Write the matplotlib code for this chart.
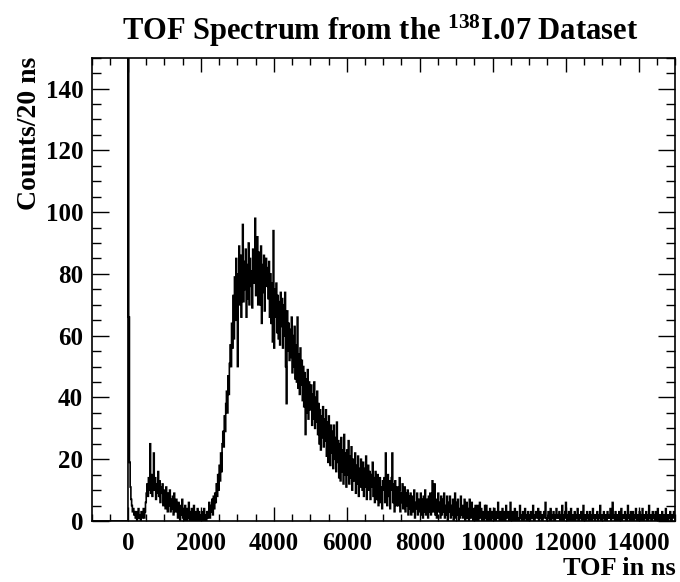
import numpy as np
import matplotlib
matplotlib.use("Agg")
import matplotlib.pyplot as plt
from matplotlib.ticker import MultipleLocator

plt.rcParams['font.family'] = ['Liberation Serif', 'DejaVu Serif']
plt.rcParams['font.weight'] = 'bold'
plt.rcParams['mathtext.fontset'] = 'custom'
plt.rcParams['mathtext.rm'] = 'Liberation Serif:bold'
plt.rcParams['mathtext.bf'] = 'Liberation Serif:bold'
plt.rcParams['mathtext.it'] = 'Liberation Serif:bold'

# histogram: 20 ns bins from -1000 ns to 15000 ns
bin_start = -1000
bin_width = 20

counts_m1000_0 = [0] * 50
counts_0_1000 = [412, 66, 19, 11, 7, 5, 3, 4, 2, 3,
                 1, 3, 0, 2, 4, 1, 2, 0, 3, 1, 2, 4, 1, 3,
                 6, 9, 12, 8, 14, 10, 25, 9, 15, 8, 12, 22, 10, 14, 7, 12,
                 9, 16, 8, 13, 6, 11, 9, 12, 5, 10]
counts_1000_2000 = [8, 4, 11, 6, 3, 9, 5, 10, 3, 7, 4, 8, 2, 9, 5, 3, 7,
                    5, 1, 6, 4, 0, 5, 2, 7, 1, 4, 0, 5, 2, 0, 4, 1, 6, 0,
                    3, 0, 4, 0, 2, 5, 0, 3, 0, 2, 4, 0, 3, 0, 2]
counts_2000_3000 = [1, 3, 0, 2, 4, 0, 2, 0, 3, 1,
                    3, 6, 1, 5, 3, 7, 2, 8, 4, 9,
                    6, 12, 8, 15, 10, 18, 13, 22, 16, 25,
                    29, 24, 34, 29, 38, 42, 35, 47, 41, 51,
                    57, 50, 64, 56, 73, 59, 79, 65, 85, 71]
counts_3000_4000 = [50, 80, 89, 70, 86, 66, 82, 96, 71, 84,
                    75, 88, 66, 83, 72, 90, 70, 85, 76, 81,
                    69, 88, 77, 86, 98, 73, 84, 92, 70, 87,
                    80, 70, 89, 64, 83, 74, 86, 68, 80, 85,
                    76, 82, 72, 84, 66, 80, 64, 77, 58, 94]
counts_4000_5000 = [56, 75, 66, 77, 61, 73, 59, 71, 57, 74,
                    63, 72, 56, 70, 60, 74, 50, 38, 68, 55,
                    64, 52, 62, 53, 66, 48, 60, 50, 63, 46,
                    57, 45, 66, 43, 54, 41, 56, 44, 52, 39,
                    50, 37, 48, 28, 46, 35, 49, 33, 45, 36]
counts_5000_6000 = [39, 44, 31, 41, 33, 45, 30, 40, 32, 42,
                    28, 38, 25, 36, 23, 34, 27, 37, 24, 33,
                    26, 36, 21, 32, 19, 34, 24, 18, 31, 22,
                    29, 17, 31, 20, 27, 16, 32, 19, 26, 14,
                    25, 13, 27, 16, 23, 12, 28, 15, 22, 11]
counts_6000_7000 = [23, 15, 26, 12, 21, 14, 24, 10, 20, 13,
                    19, 22, 9, 18, 12, 21, 8, 17, 11, 20,
                    16, 10, 19, 8, 17, 11, 21, 7, 15, 18,
                    10, 16, 7, 15, 11, 19, 8, 14, 6, 16,
                    13, 7, 15, 5, 12, 14, 6, 11, 4, 13]
counts_7000_8000 = [10, 14, 6, 22, 11, 5, 15, 8, 13, 4,
                    10, 14, 22, 6, 12, 3, 13, 8, 5, 11,
                    5, 10, 14, 3, 9, 6, 12, 4, 8, 11,
                    3, 9, 5, 10, 2, 8, 4, 9, 2, 7,
                    8, 3, 10, 1, 6, 4, 9, 2, 7, 3]
counts_8000_9000 = [5, 9, 2, 7, 1, 8, 3, 10, 2, 5,
                    7, 1, 8, 3, 9, 2, 5, 13, 3, 6,
                    12, 2, 7, 1, 5, 9, 3, 6, 1, 8,
                    2, 7, 3, 9, 1, 5, 2, 8, 0, 6,
                    3, 8, 1, 5, 2, 7, 0, 4, 9, 1]
counts_9000_10000 = [6, 2, 7, 0, 4, 1, 8, 2, 5, 1,
                     4, 7, 0, 3, 6, 1, 4, 0, 7, 2,
                     1, 6, 2, 0, 4, 1, 5, 0, 3, 5,
                     0, 3, 6, 1, 4, 0, 3, 1, 0, 5,
                     1, 5, 0, 3, 0, 2, 4, 0, 3, 1]
counts_10000_11000 = [3, 0, 4, 1, 0, 3, 1, 6, 1, 0,
                      3, 1, 0, 4, 0, 2, 3, 0, 5, 1,
                      2, 3, 0, 0, 6, 1, 0, 3, 2, 0,
                      4, 0, 2, 3, 0, 1, 0, 5, 1, 2,
                      0, 3, 0, 2, 4, 1, 0, 2, 3, 0]
counts_11000_12000 = [2, 0, 3, 1, 2, 5, 0, 0, 2, 3,
                      1, 2, 4, 0, 1, 3, 2, 0, 0, 2,
                      3, 1, 6, 1, 0, 1, 3, 2, 0, 4,
                      0, 2, 1, 3, 0, 0, 2, 4, 1, 2,
                      1, 3, 0, 2, 0, 5, 2, 0, 1, 3]
counts_12000_13000 = [6, 1, 2, 0, 3, 0, 2, 4, 0, 1,
                      2, 0, 3, 0, 2, 1, 4, 0, 0, 2,
                      1, 3, 0, 2, 5, 0, 2, 0, 1, 3,
                      2, 0, 1, 3, 0, 2, 0, 4, 1, 2,
                      0, 2, 1, 3, 0, 1, 2, 5, 0, 0]
counts_13000_14000 = [2, 1, 3, 0, 2, 0, 0, 3, 1, 2,
                      1, 4, 0, 2, 6, 1, 2, 0, 3, 0,
                      2, 0, 1, 3, 0, 2, 4, 0, 1, 2,
                      1, 3, 0, 2, 0, 5, 2, 1, 0, 3,
                      2, 0, 3, 0, 1, 2, 4, 0, 2, 0]
counts_14000_15000 = [1, 3, 0, 2, 0, 4, 1, 0, 2, 1,
                      3, 0, 2, 0, 5, 1, 2, 0, 0, 3,
                      1, 2, 0, 3, 0, 2, 4, 1, 0, 2,
                      2, 0, 3, 0, 2, 1, 0, 4, 2, 0,
                      0, 2, 1, 3, 0, 0, 2, 1, 3, 2]

x_ticks = [0, 2000, 4000, 6000, 8000, 10000, 12000, 14000]
y_ticks = [0, 20, 40, 60, 80, 100, 120, 140]

counts = np.array(counts_m1000_0 + counts_0_1000 + counts_1000_2000 + counts_2000_3000 +
                  counts_3000_4000 + counts_4000_5000 + counts_5000_6000 + counts_6000_7000 +
                  counts_7000_8000 + counts_8000_9000 + counts_9000_10000 + counts_10000_11000 +
                  counts_11000_12000 + counts_12000_13000 + counts_13000_14000 + counts_14000_15000)
edges = bin_start + bin_width * np.arange(len(counts) + 1)

fig = plt.figure(figsize=(6.8, 5.82), dpi=100)
ax = fig.add_axes([91.5 / 680, 61 / 582, 583.5 / 680, 463.3 / 582])
ax.stairs(counts, edges, color='black', linewidth=1.2)
ax.set_xlim(-1000, 15000)
ax.set_ylim(0, 150)

ax.set_xticks(x_ticks)
ax.set_yticks(y_ticks)
ax.xaxis.set_minor_locator(MultipleLocator(500))
ax.yaxis.set_minor_locator(MultipleLocator(5))
ax.tick_params(axis='x', which='both', direction='in', top=True, bottom=True,
               labelsize=18, pad=8, width=1.0)
ax.tick_params(axis='y', which='both', direction='in', left=True, right=True,
               labelsize=18, pad=6, width=1.0)
ax.tick_params(axis='x', which='major', length=10)
ax.tick_params(axis='x', which='minor', length=5)
ax.tick_params(axis='y', which='major', length=12.5)
ax.tick_params(axis='y', which='minor', length=6.3)
for lab in ax.get_xticklabels() + ax.get_yticklabels():
    lab.set_fontweight('bold')
for s in ax.spines.values():
    s.set_linewidth(1.2)

fig.text(676 / 680, 1 - 575 / 582, 'TOF in ns', ha='right', va='baseline',
         fontsize=19, fontweight='bold')
fig.text(30 / 680, 1 - 57 / 582, 'Counts/20 ns', ha='center', va='top',
         rotation=90, fontsize=20, fontweight='bold')
fig.text(380 / 680, 1 - 31 / 582, r'TOF Spectrum from the $^{\mathbf{138}}$I.07 Dataset',
         ha='center', va='center', fontsize=22, fontweight='bold')

fig.savefig('out.png', dpi=100)
